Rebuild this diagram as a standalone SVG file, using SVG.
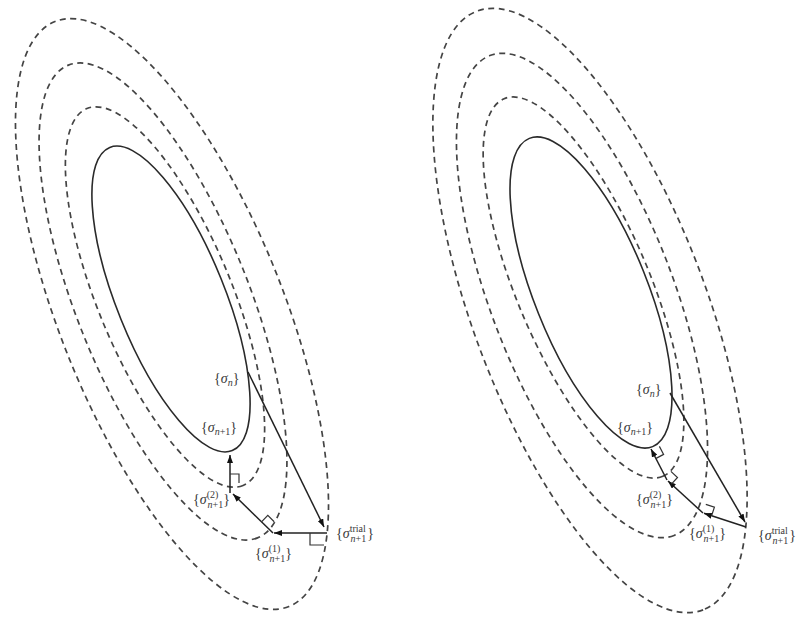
<svg xmlns="http://www.w3.org/2000/svg" width="797" height="623" viewBox="0 0 797 623">
<style>
.solid{fill:none;stroke:#2a2a2a;stroke-width:1.6}
.dash{fill:none;stroke:#444;stroke-width:1.7;stroke-dasharray:6 4.5}
.con{fill:none;stroke:#222;stroke-width:1.5}
.ra{fill:none;stroke:#333;stroke-width:1.2}
.lbl{font-family:"Liberation Serif","Times New Roman",serif;font-size:14px;fill:#3a3a3a}
.s{font-style:italic}
.sm{font-size:10px}
</style>
<defs>
<marker id="ah" viewBox="0 0 8 6" refX="8" refY="3" markerWidth="8" markerHeight="6" markerUnits="userSpaceOnUse" orient="auto">
<path d="M0,0 L8,3 L0,6 z" fill="#111"/>
</marker>
</defs>

<g id="contours-left">
<ellipse class="dash" cx="172" cy="314" rx="315" ry="112" transform="rotate(68.2 172 314)"/>
<ellipse class="dash" cx="163" cy="301.5" rx="254.6" ry="86.3" transform="rotate(68.2 163 301.5)"/>
<ellipse class="dash" cx="165" cy="297" rx="204" ry="67" transform="rotate(67.5 165 297)"/>
<ellipse class="solid" cx="171" cy="299" rx="163.5" ry="54" transform="rotate(68 171 299)"/>
</g>
<g id="contours-right">
<ellipse class="dash" cx="590" cy="310.5" rx="320" ry="116.6" transform="rotate(69.3 590 310.5)"/>
<ellipse class="dash" cx="582" cy="295.5" rx="257" ry="91.4" transform="rotate(69 582 295.5)"/>
<ellipse class="dash" cx="583.5" cy="287.5" rx="204.8" ry="66.6" transform="rotate(67.2 583.5 287.5)"/>
<ellipse class="solid" cx="591" cy="292.5" rx="166" ry="56.6" transform="rotate(68.2 591 292.5)"/>
</g>

<g id="connectors">
<line class="con" x1="248" y1="372" x2="324" y2="527" marker-end="url(#ah)"/>
<line class="con" x1="327" y1="533" x2="274" y2="533" marker-end="url(#ah)"/>
<line class="con" x1="273" y1="533" x2="233" y2="494" marker-end="url(#ah)"/>
<line class="con" x1="230" y1="493" x2="230" y2="455" marker-end="url(#ah)"/>
<path class="ra" d="M310,533 V545 H324"/>
<path class="ra" d="M261.5,521.8 L267.8,515.4 L274.2,521.7"/>
<path class="ra" d="M230,474 H239 V483"/>

<line class="con" x1="670" y1="393" x2="745" y2="522" marker-end="url(#ah)"/>
<line class="con" x1="746" y1="527" x2="704" y2="513.3" marker-end="url(#ah)"/>
<line class="con" x1="703" y1="513" x2="668" y2="481" marker-end="url(#ah)"/>
<line class="con" x1="667" y1="480" x2="651" y2="449" marker-end="url(#ah)"/>
<path class="ra" d="M711.6,515.8 L714.4,507.2 L705.8,504.4"/>
<path class="ra" d="M671.4,484.1 L677.5,477.5 L670.9,471.4"/>
<path class="ra" d="M655.6,458.6 L663.6,454.4 L659.4,446.4"/>
</g>

<g id="left-sigma-n"><text class="lbl" x="214" y="383">{<tspan class="s">σ</tspan><tspan class="sm s" dy="3">n</tspan><tspan dy="-3">}</tspan></text></g>
<g id="left-sigma-n1"><text class="lbl" x="201" y="432">{<tspan class="s">σ</tspan><tspan class="sm" dy="3"><tspan class="s">n</tspan>+1</tspan><tspan dy="-3">}</tspan></text></g>
<g id="left-sigma-2"><text class="lbl" x="193" y="504">{<tspan class="s">σ</tspan><tspan class="sm" dy="-6">(2)</tspan><tspan class="sm" x="207.5" dy="10"><tspan class="s">n</tspan>+1</tspan><tspan dy="-4">}</tspan></text></g>
<g id="left-sigma-1"><text class="lbl" x="255" y="558">{<tspan class="s">σ</tspan><tspan class="sm" dy="-6">(1)</tspan><tspan class="sm" x="269.5" dy="10"><tspan class="s">n</tspan>+1</tspan><tspan dy="-4">}</tspan></text></g>
<g id="left-sigma-trial"><text class="lbl" x="336" y="538">{<tspan class="s">σ</tspan><tspan class="sm" dy="-6">trial</tspan><tspan class="sm" x="350.5" dy="10"><tspan class="s">n</tspan>+1</tspan><tspan dy="-4" dx="1">}</tspan></text></g>

<g id="right-sigma-n"><text class="lbl" x="636" y="394">{<tspan class="s">σ</tspan><tspan class="sm s" dy="3">n</tspan><tspan dy="-3">}</tspan></text></g>
<g id="right-sigma-n1"><text class="lbl" x="617" y="432">{<tspan class="s">σ</tspan><tspan class="sm" dy="3"><tspan class="s">n</tspan>+1</tspan><tspan dy="-3">}</tspan></text></g>
<g id="right-sigma-2"><text class="lbl" x="636" y="504">{<tspan class="s">σ</tspan><tspan class="sm" dy="-6">(2)</tspan><tspan class="sm" x="650.5" dy="10"><tspan class="s">n</tspan>+1</tspan><tspan dy="-4">}</tspan></text></g>
<g id="right-sigma-1"><text class="lbl" x="689" y="538">{<tspan class="s">σ</tspan><tspan class="sm" dy="-6">(1)</tspan><tspan class="sm" x="703.5" dy="10"><tspan class="s">n</tspan>+1</tspan><tspan dy="-4">}</tspan></text></g>
<g id="right-sigma-trial"><text class="lbl" x="758" y="540">{<tspan class="s">σ</tspan><tspan class="sm" dy="-6">trial</tspan><tspan class="sm" x="772.5" dy="10"><tspan class="s">n</tspan>+1</tspan><tspan dy="-4" dx="1">}</tspan></text></g>
</svg>
